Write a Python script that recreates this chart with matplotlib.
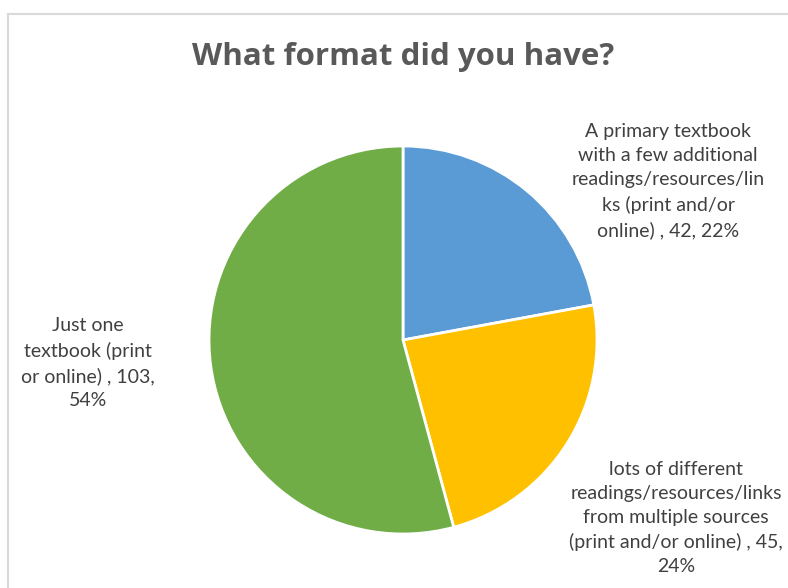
import matplotlib
matplotlib.use("Agg")
import matplotlib.pyplot as plt
from matplotlib.lines import Line2D

# Survey responses
categories = [
    "A primary textbook\nwith a few additional\nreadings/resources/lin\nks (print and/or\nonline)",
    "lots of different\nreadings/resources/links\nfrom multiple sources\n(print and/or online)",
    "Just one\ntextbook (print\nor online)",
]
counts = [42, 45, 103]
percents = [22, 24, 54]
colors = ["#5B9BD5", "#FFC000", "#70AD47"]

W, H = 788, 588
fig = plt.figure(figsize=(W / 100, H / 100), dpi=100)

# Chart-area frame (top and left edges)
fig.add_artist(Line2D([8 / W, 8 / W], [0, 1 - 14 / H], transform=fig.transFigure,
                      color="#D9D9D9", lw=1.5))
fig.add_artist(Line2D([8 / W, 1], [1 - 14 / H, 1 - 14 / H], transform=fig.transFigure,
                      color="#D9D9D9", lw=1.5))

fig.text(403 / W, 1 - 57 / H, "What format did you have?", ha="center", va="center",
         fontsize=22.5, fontweight="bold", color="#595959", family="Open Sans")

# Pie centred at (403, 340) px with radius 194 px
cx, cy, r = 403, 340, 194
ax = fig.add_axes([(cx - r) / W, 1 - (cy + r) / H, 2 * r / W, 2 * r / H])
ax.pie(counts, colors=colors, startangle=90, counterclock=False,
       wedgeprops=dict(edgecolor="white", linewidth=2), radius=1)
ax.set_xlim(-1, 1)
ax.set_ylim(-1, 1)
ax.set_aspect("equal")
ax.axis("off")

label_pos = [(668, 181), (676, 518), (88, 363)]
label_text = [
    f"{categories[0]} , {counts[0]}, {percents[0]}%",
    f"{categories[1]} , {counts[1]},\n{percents[1]}%",
    f"{categories[2]} , {counts[2]},\n{percents[2]}%",
]
for (x, y), t in zip(label_pos, label_text):
    fig.text(x / W, 1 - y / H, t, ha="center", va="center", fontsize=14,
             color="#404040", family="Lato", linespacing=1.5)

fig.savefig("out.png", dpi=100, facecolor="white")
